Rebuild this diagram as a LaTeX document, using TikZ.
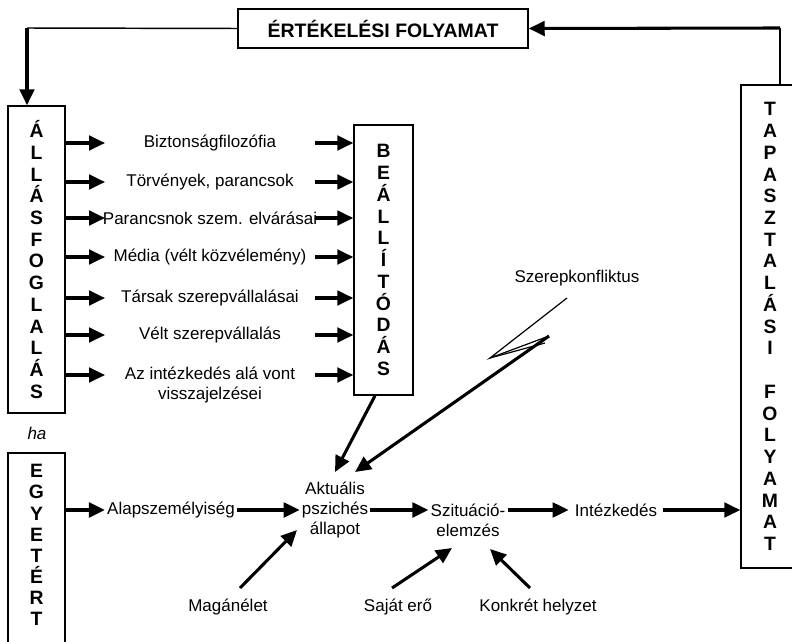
\documentclass[tikz,border=0pt]{standalone}
\usepackage{fontspec}
\setmainfont{Liberation Sans}
\usetikzlibrary{arrows.meta}
\begin{document}
\begin{tikzpicture}[x=0.75pt,y=-0.75pt,
  box/.style={draw,line width=1.1pt,inner sep=0pt,align=center,
    font=\bfseries\fontsize{14.5}{16.3}\selectfont},
  letters/.style={inner sep=0pt,align=center,font=\bfseries\fontsize{14.5}{15.8}\selectfont},
  lbl/.style={font=\fontsize{12.75}{15}\selectfont,inner sep=1.5pt,align=center},
  arr/.style={line width=2.3pt,-{Triangle[length=12pt,width=11pt]}},
  thinline/.style={line width=1.1pt},
  zig/.style={line width=0.9pt}]
\useasboundingbox (0,0) rectangle (792,642);

% boxes
\node[box,minimum width=217.5pt,minimum height=29.25pt,font=\bfseries\fontsize{14.6}{16}\selectfont] (ert) at (383,28.5) {ÉRTÉKELÉSI FOLYAMAT};
\node[box,minimum width=42.75pt,minimum height=230.25pt] (all) at (36.5,259.5)
  {Á\\L\\L\\Á\\S\\F\\O\\G\\L\\A\\L\\Á\\S};
\node[box,minimum width=44.25pt,minimum height=202.5pt] (bea) at (383.5,260)
  {B\\E\\Á\\L\\L\\Í\\T\\Ó\\D\\Á\\S};
\node[box,minimum width=43.5pt,minimum height=362.25pt] (tap) at (770,326.5)
  {T\\A\\P\\A\\S\\Z\\T\\A\\L\\Á\\S\\I\\[16.3pt]F\\O\\L\\Y\\A\\M\\A\\T};
\node[box,minimum width=42.75pt,minimum height=159pt] (egy) at (36.5,559) {};
\node[letters] (egyt) at (36.5,545) {E\\G\\Y\\E\\T\\É\\R\\T};
\node[lbl,font=\fontsize{12.75}{15}\selectfont\itshape] (ha) at (37,433) {ha};

% top feedback loop
\coordinate (cl) at (27,28);
\coordinate (cr) at (780,28);
\draw[thinline] (ert.west) -- (cl);
\draw[arr] (cl) -- (all.north -| cl);
\draw[thinline] (tap.north -| cr) -- (cr);
\draw[arr] (cr) -- (ert.east);

% middle column
\node[lbl] (t1) at (210,143) {Biztonságfilozófia};
\node[lbl] (t2) at (210,182) {Törvények, parancsok};
\node[lbl] (t3) at (210,218) {Parancsnok szem. elvárásai};
\node[lbl] (t4) at (210,257) {Média (vélt közvélemény)};
\node[lbl] (t5) at (210,298) {Társak szerepvállalásai};
\node[lbl] (t6) at (210,335) {Vélt szerepvállalás};
\node[lbl] (t7) at (210,385) {Az intézkedés alá vont\\visszajelzései};
\coordinate (r7) at (210,375);
\foreach \t in {t1,t2,t3,t4,t5,t6,r7}{
  \draw[arr] (all.east |- \t) -- (105,0 |- \t);
  \draw[arr] (315,0 |- \t) -- (bea.west |- \t);
}

% bottom flow
\node[lbl] (alap) at (171,510) {Alapszemélyiség};
\node[lbl] (akt) at (335,510) {Aktuális\\pszichés\\állapot};
\node[lbl] (szit) at (468,520) {Szituáció-\\elemzés};
\node[lbl,inner xsep=4.5pt] (int) at (616,510) {Intézkedés};
\draw[arr] (egy.east |- alap) -- (alap.west);
\draw[arr] (alap.east) -- (akt.west);
\draw[arr] (akt.east) -- (szit.west |- akt.east);
\draw[arr] (szit.east |- int) -- (int.west);
\draw[arr] (int.east) -- (tap.west |- int);

% influences
\node[lbl] (szk) at (577,278) {Szerepkonfliktus};
\node[lbl] (mag) at (228,607) {Magánélet};
\node[lbl] (saj) at (398,607) {Saját erő};
\node[lbl] (kon) at (538,607) {Konkrét helyzet};

\coordinate (a1) at (335,472);
\coordinate (a2) at (355,472);
\coordinate (z1) at (567,298);
\coordinate (z2) at (490,358);
\coordinate (z3) at (549,336);
\coordinate (z4) at (545,343);
\draw[arr] (bea.south -| 375,0) -- (a1);
\draw[zig] (z1) -- (z2) -- (z3);
\draw[zig] (z2) -- (z4);
\draw[arr] (z3) -- (a2);

\coordinate (m0) at (240,588);
\coordinate (m1) at (297,530);
\coordinate (s0) at (392,588);
\coordinate (s1) at (452,548);
\coordinate (k0) at (530,588);
\coordinate (k1) at (490,549);
\draw[arr] (m0) -- (m1);
\draw[arr] (s0) -- (s1);
\draw[arr] (k0) -- (k1);
\end{tikzpicture}
\end{document}
